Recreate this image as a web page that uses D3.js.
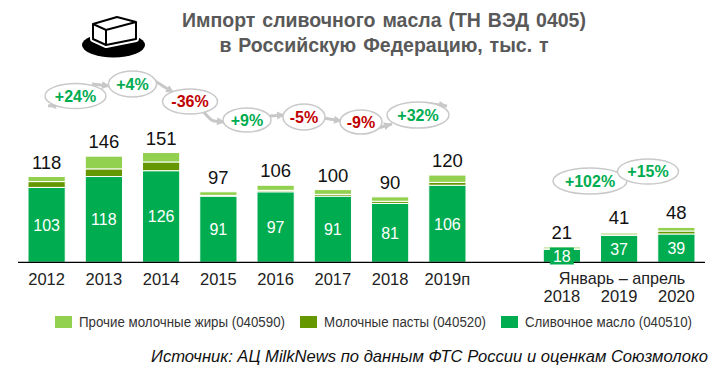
<!DOCTYPE html>
<html>
<head>
<meta charset="utf-8">
<script src="https://cdn.jsdelivr.net/npm/d3@7"></script>
<style>
  html, body { margin: 0; padding: 0; background: #fff; }
  svg { display: block; }
  text { font-family: "Liberation Sans", Arial, sans-serif; }
</style>
</head>
<body>
<svg id="chart" width="720" height="371"></svg>
<script>
// slots on the x axis, "gap" is the empty slot before the Jan-Apr group
const slots = ["2012", "2013", "2014", "2015", "2016", "2017", "2018", "2019п", "gap", "2018 янв", "2019 янв", "2020 янв"];
const years = ["2012", "2013", "2014", "2015", "2016", "2017", "2018", "2019п", "2018 янв", "2019 янв", "2020 янв"];
const tickLabels = ["2012", "2013", "2014", "2015", "2016", "2017", "2018", "2019п", "2018", "2019", "2020"];

const butter = [103, 118, 126, 91, 97, 91, 81, 106, 18, 37, 39];
const paste = [8, 10.5, 12, 1, 2, 2.5, 3, 4, 0.5, 2, 4];
const otherFats = [7, 17.5, 13, 5, 7, 6.5, 6, 10, 2.5, 2, 5];
const totals = [118, 146, 151, 97, 106, 100, 90, 120, 21, 41, 48];

const growthLabels = ["+24%", "+4%", "-36%", "+9%", "-5%", "-9%", "+32%", "+102%", "+15%"];
const legendLabels = ["Прочие молочные жиры (040590)", "Молочные пасты (040520)", "Сливочное масло (040510)"];

const colors = { butter: "#00ac50", paste: "#659700", otherFats: "#92d050" };

const svg = d3.select("#chart");
const baseline = 262.3;

const x = d3.scaleBand().domain(slots).range([18, 705]).paddingInner(0.35).paddingOuter(0.175);
// 0.727 px per thousand tonnes
const y = d3.scaleLinear().domain([0, 100]).range([baseline, baseline - 72.7]);

// stacked bars
const keys = ["butter", "paste", "otherFats"];
const rows = years.map((year, i) => ({ year, butter: butter[i], paste: paste[i], otherFats: otherFats[i] }));
const stacked = d3.stack().keys(keys)(rows);

svg.append("g").selectAll("g")
  .data(stacked)
  .join("g")
  .attr("fill", d => colors[d.key])
  .selectAll("rect")
  .data(d => d)
  .join("rect")
  .attr("x", d => x(d.data.year))
  .attr("width", x.bandwidth())
  .attr("y", d => y(d[1]))
  .attr("height", d => y(d[0]) - y(d[1]))
  .attr("stroke", "#fff")
  .attr("stroke-width", 1);

// axis line
svg.append("line")
  .attr("x1", 18).attr("x2", 705)
  .attr("y1", baseline).attr("y2", baseline)
  .attr("stroke", "#000").attr("stroke-width", 1.2);

// the 18 label sits on its own green box in the original
const boxed = "2018 янв";
svg.append("rect")
  .attr("x", x(boxed) + x.bandwidth() / 2 - 12)
  .attr("width", 24)
  .attr("y", 247.5)
  .attr("height", 17)
  .attr("fill", colors.butter);

// labels inside the bars
svg.append("g").selectAll("text")
  .data(years)
  .join("text")
  .attr("x", d => x(d) + x.bandwidth() / 2)
  .attr("y", (d, i) => (y(0) + y(butter[i])) / 2 + 6)
  .attr("text-anchor", "middle")
  .attr("font-size", 16)
  .attr("fill", "#fff")
  .text((d, i) => butter[i]);

// totals above the bars
svg.append("g").selectAll("text")
  .data(years)
  .join("text")
  .attr("x", d => x(d) + x.bandwidth() / 2)
  .attr("y", (d, i) => y(totals[i]) - 8)
  .attr("text-anchor", "middle")
  .attr("font-size", 18.5)
  .attr("fill", "#111")
  .text((d, i) => totals[i]);

// x axis labels
svg.append("g").selectAll("text")
  .data(years)
  .join("text")
  .attr("x", d => x(d) + x.bandwidth() / 2)
  .attr("y", (d, i) => i < 8 ? 284.5 : 302)
  .attr("text-anchor", "middle")
  .attr("font-size", 16.5)
  .attr("fill", "#222")
  .text((d, i) => tickLabels[i]);

svg.append("text")
  .attr("x", 622).attr("y", 283.5)
  .attr("text-anchor", "middle")
  .attr("font-size", 16.2)
  .attr("fill", "#222")
  .text("Январь – апрель");

// connectors behind the growth bubbles
const connectors = [
  [[64, 104], [48, 106]],
  [[92, 84], [110, 86]],
  [[155, 81], [174, 93]],
  [[203, 111], [214, 121], [225, 122]],
  [[270, 116], [285, 115]],
  [[323, 118], [342, 121]],
  [[378, 128], [392, 124]],
  [[425, 103], [447, 106]]
];
const connector = d3.line().curve(d3.curveMonotoneX);
svg.append("g").selectAll("path")
  .data(connectors)
  .join("path")
  .attr("d", d => connector(d))
  .attr("fill", "none")
  .attr("stroke", "#c8c8c8")
  .attr("stroke-width", 3);

// little wedge at the end of each connector
svg.append("g").selectAll("path")
  .data(connectors)
  .join("path")
  .attr("fill", "#c8c8c8")
  .attr("transform", d => {
    const a = d[d.length - 2], b = d[d.length - 1];
    return `translate(${b[0]},${b[1]}) rotate(${Math.atan2(b[1] - a[1], b[0] - a[0]) * 180 / Math.PI})`;
  })
  .attr("d", "M0,0L-8,-4L-8,4Z");

// growth bubbles
const bubbleLayout = [
  [75.5, 96, 30.5, 12.5], [132.5, 84, 24, 13], [190, 101.5, 27.5, 12.5],
  [247, 120, 24, 12], [304, 117, 21, 13], [361, 122, 21, 12],
  [418, 115, 31, 13], [590, 181, 37, 13], [648, 171.5, 30.5, 12.5]
];
const bubbles = svg.append("g").selectAll("g")
  .data(growthLabels)
  .join("g")
  .attr("transform", (d, i) => `translate(${bubbleLayout[i][0]},${bubbleLayout[i][1]})`);

bubbles.append("ellipse")
  .attr("rx", (d, i) => bubbleLayout[i][2])
  .attr("ry", (d, i) => bubbleLayout[i][3])
  .attr("fill", "#fff")
  .attr("stroke", "#c9c9c9")
  .attr("stroke-width", 1.5);

bubbles.append("text")
  .attr("y", 5.5)
  .attr("text-anchor", "middle")
  .attr("font-size", 16)
  .attr("font-weight", "bold")
  .attr("fill", d => d.startsWith("+") ? "#00ac50" : "#c00000")
  .text(d => d);

// title
svg.append("g").selectAll("text")
  .data(["Импорт сливочного масла (ТН ВЭД 0405)", "в Российскую Федерацию, тыс. т"])
  .join("text")
  .attr("x", 384)
  .attr("y", (d, i) => 27 + i * 24.5)
  .attr("text-anchor", "middle")
  .attr("font-size", 19.5)
  .attr("font-weight", "bold")
  .attr("word-spacing", 1.5)
  .attr("fill", "#595959")
  .text(d => d);

// butter icon
const icon = svg.append("g").attr("transform", "translate(82,16)");
const blockOutline = "M11,8L35,1L54,6L54,23L24,29L11,23Z";
icon.append("ellipse").attr("cx", 31.5).attr("cy", 29).attr("rx", 31.5).attr("ry", 12.5).attr("fill", "#000");
icon.append("path")
  .attr("d", blockOutline)
  .attr("fill", "#fff").attr("stroke", "#fff").attr("stroke-width", 6).attr("stroke-linejoin", "round");
icon.append("path")
  .attr("d", blockOutline)
  .attr("fill", "#fff").attr("stroke", "#000").attr("stroke-width", 2).attr("stroke-linejoin", "round");
icon.append("path")
  .attr("d", "M11,8L24,14L54,6M24,14L24,29")
  .attr("fill", "none").attr("stroke", "#000").attr("stroke-width", 2);

// legend
const legendSwatchX = [55, 300, 501];
const legendTextWidth = [206, 162, 167];
const legendKeys = ["otherFats", "paste", "butter"];
const legend = svg.append("g").selectAll("g")
  .data(legendLabels)
  .join("g")
  .attr("transform", (d, i) => `translate(${legendSwatchX[i]},316)`);
legend.append("rect")
  .attr("width", 17).attr("height", 12)
  .attr("fill", (d, i) => colors[legendKeys[i]]);
legend.append("text")
  .attr("x", 24).attr("y", 11)
  .attr("font-size", 14)
  .attr("textLength", (d, i) => legendTextWidth[i])
  .attr("lengthAdjust", "spacingAndGlyphs")
  .attr("fill", "#333")
  .text(d => d);

// source
svg.append("text")
  .attr("x", 708).attr("y", 362)
  .attr("text-anchor", "end")
  .attr("font-size", 16.6)
  .attr("font-style", "italic")
  .attr("fill", "#111")
  .text("Источник: АЦ MilkNews по данным ФТС России и оценкам Союзмолоко");
</script>
</body>
</html>
